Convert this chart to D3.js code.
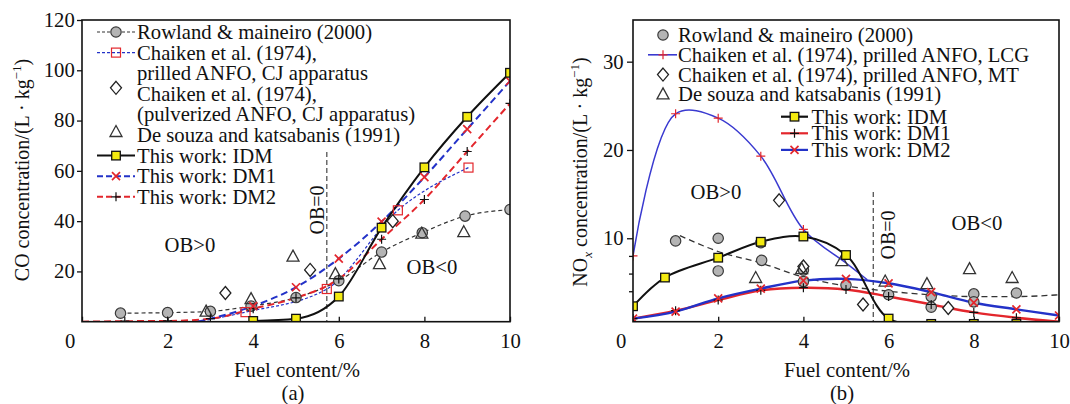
<!DOCTYPE html>
<html>
<head>
<meta charset="utf-8">
<script src="https://cdn.jsdelivr.net/npm/d3@7/dist/d3.min.js"></script>
<style>
  body { margin: 0; background: #fff; }
  text { font-family: "Liberation Serif", "Times New Roman", serif; fill: #111; }
</style>
</head>
<body>
<div id="chart"></div>
<script>
// tick values
var fuelTicks = [0, 2, 4, 6, 8, 10];
var coTicks = [20, 40, 60, 80, 100, 120];
var noxTicks = [10, 20, 30];
var noxMinorTicks = [4, 6, 8];

// (a) CO concentration
var coRowlandX = [0.9, 2, 3, 3.95, 5, 6, 7, 7.95, 8.95, 10];
var coRowlandY = [3.4, 3.6, 4.1, 6.2, 9.6, 16.3, 27.7, 35.4, 42, 44.6];
var coPrilledX = [2.7, 3.82, 5.72, 7.38, 9.03];
var coPrilledY = [0, 3.8, 13, 44.3, 61.3];
var coPulverizedX = [3.35, 5.33, 7.26];
var coPulverizedY = [11.4, 20.6, 40];
var coDesouzaX = [2.9, 3.95, 4.93, 5.92, 6.95, 7.94, 8.92];
var coDesouzaY = [4, 9, 25.9, 18.9, 22.9, 35, 35.6];
var coIdmX = [4, 5, 6, 7, 8, 9, 10];
var coIdmY = [0.3, 1.2, 10, 37.4, 61.4, 81.5, 99];
var coDm1X = [2.7, 4, 5, 6, 7, 8, 9, 10];
var coDm1Y = [0, 6.2, 13.7, 25.1, 39.8, 57.5, 76.6, 95.7];
var coDm2X = [0, 1, 2, 3, 4, 5, 6, 7, 8, 9, 10];
var coDm2Y = [0, 0.2, 0.3, 1.2, 5.2, 9.5, 17, 32.8, 48.6, 67.7, 86.8];

// (b) NOx concentration
var noxRowlandX = [1, 2, 2, 3, 3.02, 4, 4, 5, 6, 7, 7, 8, 8, 9];
var noxRowlandY = [9.7, 10, 6.3, 9.5, 7.5, 6.4, 5.1, 4.7, 3.6, 3.4, 2.2, 3.7, 2.8, 3.8];
var noxTrendX = [1.1, 2, 3, 4, 5, 6, 7, 8, 9, 10];
var noxTrendY = [10.3, 8.5, 7.2, 5.6, 4.6, 4.0, 3.6, 3.4, 3.4, 3.6];
var noxLcgX = [0, 1, 2, 3, 4, 5, 5.5];
var noxLcgY = [8, 24.1, 23.6, 19.3, 11, 7.2, 5.3];
var noxMtX = [3.43, 4, 5.4, 7.4];
var noxMtY = [14.3, 6.8, 2.5, 2.1];
var noxDesouzaX = [2.88, 3.96, 4.9, 5.92, 6.9, 7.9, 8.9];
var noxDesouzaY = [5.5, 6.5, 7.4, 5.1, 4.8, 6.5, 5.5];
var noxIdmX = [0, 0.75, 2, 3, 4, 5, 6, 7, 8, 9];
var noxIdmY = [2.3, 5.55, 7.8, 9.6, 10.2, 8.1, 0.9, 0.3, 0.3, 0.3];
var noxDm1X = [0, 1, 2, 3, 4, 5, 6, 7, 8, 9, 10];
var noxDm1Y = [0.9, 1.8, 3.0, 4.1, 4.4, 4.2, 3.4, 2.5, 1.6, 1.0, 0.55];
var noxDm2X = [0, 1, 2, 3, 4, 5, 6, 7, 8, 9, 10];
var noxDm2Y = [0.9, 1.7, 3.2, 4.3, 5.2, 5.4, 4.9, 3.9, 2.7, 1.95, 1.25];

// OB=0 position
var obZero = [5.72, 5.64];

// legend labels
var legendA = ["Rowland & maineiro (2000)", "Chaiken et al. (1974),", "prilled ANFO, CJ apparatus",
  "Chaiken et al. (1974),", "(pulverized ANFO, CJ apparatus)", "De souza and katsabanis (1991)",
  "This work: IDM", "This work: DM1", "This work: DM2"];
var legendB1 = ["Rowland & maineiro (2000)", "Chaiken et al. (1974), prilled ANFO, LCG",
  "Chaiken et al. (1974), prilled ANFO, MT", "De souza and katsabanis (1991)"];
var legendB2 = ["This work: IDM", "This work: DM1", "This work: DM2"];

// the printed text is a little wider than the font
var FS = 20, SX = 1.035;
var RED = "#e3262c", BLUE = "#2332c8";

var svg = d3.select("#chart").append("svg")
  .attr("width", 1070)
  .attr("height", 404);

function zip(xs, ys) { return xs.map((x, i) => [x, ys[i]]); }

function addText(g, x, y, str, anchor, rot) {
  var t = g.append("text")
    .attr("text-anchor", anchor || "middle")
    .attr("dy", "0.35em")
    .attr("font-size", FS)
    .text(str);
  t.attr("transform", rot ? `translate(${x},${y}) rotate(-90) scale(1,${SX})`
                          : `translate(${x},${y}) scale(${SX},1)`);
  return t;
}

function marker(g, type, x, y) {
  if (type == "circle") {
    g.append("circle").attr("cx", x).attr("cy", y).attr("r", 5.2)
      .attr("fill", "#b4b4b4").attr("stroke", "#3a3a3a").attr("stroke-width", 1.2);
  } else if (type == "yellow") {
    g.append("rect").attr("x", x - 4.3).attr("y", y - 4.3).attr("width", 8.6).attr("height", 8.6)
      .attr("fill", "#f3ea10").attr("stroke", "#111").attr("stroke-width", 1.3);
  } else if (type == "redsquare") {
    g.append("rect").attr("x", x - 4.5).attr("y", y - 4.5).attr("width", 9).attr("height", 9)
      .attr("fill", "none").attr("stroke", RED).attr("stroke-width", 1.2);
  } else if (type == "diamond") {
    g.append("path").attr("d", `M${x},${y - 6.5}L${x + 5.5},${y}L${x},${y + 6.5}L${x - 5.5},${y}Z`)
      .attr("fill", "#fff").attr("stroke", "#222").attr("stroke-width", 1.3);
  } else if (type == "triangle") {
    g.append("path").attr("d", `M${x},${y - 6.5}L${x + 6},${y + 4.5}L${x - 6},${y + 4.5}Z`)
      .attr("fill", "none").attr("stroke", "#333").attr("stroke-width", 1.3);
  } else if (type == "cross") {
    g.append("path").attr("d", `M${x - 4},${y - 4}L${x + 4},${y + 4}M${x - 4},${y + 4}L${x + 4},${y - 4}`)
      .attr("stroke", RED).attr("stroke-width", 1.7);
  } else if (type == "plus" || type == "redplus") {
    g.append("path").attr("d", `M${x - 4.5},${y}L${x + 4.5},${y}M${x},${y - 4.5}L${x},${y + 4.5}`)
      .attr("stroke", type == "plus" ? "#111" : RED).attr("stroke-width", 1.2);
  }
}

function styleAxis(ax, shift0) {
  ax.select(".domain").remove();
  ax.attr("font-size", null).attr("font-family", null);
  ax.selectAll("line").attr("stroke", "#111").attr("stroke-width", 1.3);
  ax.selectAll("text").attr("font-size", FS).attr("fill", "#111")
    .attr("transform", `scale(${SX},1)`);
  if (shift0) ax.selectAll(".tick").filter(d => d === 0).select("text").attr("x", -12);
}

// draws one series as a line
function drawLine(g, xs, ys, xScale, yScale, stroke, width, dash, curve) {
  var line = d3.line().x(d => xScale(d[0])).y(d => yScale(d[1])).curve(curve);
  g.append("path").datum(zip(xs, ys))
    .attr("d", line)
    .attr("fill", "none")
    .attr("stroke", stroke)
    .attr("stroke-width", width)
    .attr("stroke-dasharray", dash);
}

function drawMarkers(g, xs, ys, xScale, yScale, type) {
  zip(xs, ys).forEach(d => marker(g, type, xScale(d[0]), yScale(d[1])));
}

// ---------------- panel (a) ----------------
var xA = d3.scaleLinear().domain([0, 10]).range([82, 510]);
var yA = d3.scaleLinear().domain([0, 120]).range([321.7, 20]);
var gA = svg.append("g");

svg.append("clipPath").attr("id", "clipA").append("rect")
  .attr("x", 82).attr("y", 20).attr("width", 428).attr("height", 301.7);

gA.append("g").attr("transform", "translate(0,321.7)")
  .call(d3.axisBottom(xA).tickValues(fuelTicks).tickSizeInner(-5).tickSizeOuter(0).tickPadding(12))
  .call(ax => styleAxis(ax, true));
gA.append("g").attr("transform", "translate(82,0)")
  .call(d3.axisLeft(yA).tickValues(coTicks).tickSizeInner(5).tickSizeOuter(0).tickPadding(2))
  .call(ax => styleAxis(ax, false));

var pA = gA.append("g").attr("clip-path", "url(#clipA)");

// OB=0 line
pA.append("line").attr("x1", xA(obZero[0])).attr("x2", xA(obZero[0]))
  .attr("y1", 152).attr("y2", 322)
  .attr("stroke", "#444").attr("stroke-width", 1.2).attr("stroke-dasharray", "5,3");

drawLine(pA, coRowlandX, coRowlandY, xA, yA, "#333", 1.2, "4,3", d3.curveMonotoneX);
drawLine(pA, coPrilledX, coPrilledY, xA, yA, BLUE, 1.2, "3,2", d3.curveMonotoneX);
drawLine(pA, coDm2X, coDm2Y, xA, yA, RED, 2, "7,4", d3.curveMonotoneX);
drawLine(pA, coDm1X, coDm1Y, xA, yA, BLUE, 2, "7,4", d3.curveMonotoneX);
drawLine(pA, coIdmX, coIdmY, xA, yA, "#111", 2, null, d3.curveMonotoneX);

drawMarkers(pA, coRowlandX, coRowlandY, xA, yA, "circle");
drawMarkers(pA, coPrilledX.slice(1), coPrilledY.slice(1), xA, yA, "redsquare");
drawMarkers(pA, coPulverizedX, coPulverizedY, xA, yA, "diamond");
drawMarkers(pA, coDesouzaX, coDesouzaY, xA, yA, "triangle");
drawMarkers(pA, coDm2X, coDm2Y, xA, yA, "plus");
drawMarkers(pA, coDm1X.slice(1), coDm1Y.slice(1), xA, yA, "cross");
drawMarkers(pA, coIdmX, coIdmY, xA, yA, "yellow");

addText(gA, 190, 245, "OB>0");
addText(gA, 432, 267, "OB<0");
addText(gA, 317, 210, "OB=0", "middle", true);

// legend (a)
function drawSeg(y, stroke, w, dash) {
  gA.append("line").attr("x1", 97).attr("x2", 135).attr("y1", y).attr("y2", y)
    .attr("stroke", stroke).attr("stroke-width", w).attr("stroke-dasharray", dash);
}
legendA.forEach(function (lab, i) {
  var y = 32 + i * 20.6;
  addText(gA, 137, y, lab, "start");
  if (i == 0) { drawSeg(y, "#333", 1.2, "3,2"); marker(gA, "circle", 116, y); }
  if (i == 1) { drawSeg(y, BLUE, 1.2, "3,2"); marker(gA, "redsquare", 116, y); }
  if (i == 3) marker(gA, "diamond", 116, y - 6);
  if (i == 5) marker(gA, "triangle", 116, y - 3);
  if (i == 6) { drawSeg(y, "#111", 2, null); marker(gA, "yellow", 116, y); }
  if (i == 7) { drawSeg(y, BLUE, 2, "6,3"); marker(gA, "cross", 116, y); }
  if (i == 8) { drawSeg(y, RED, 2, "6,3"); marker(gA, "plus", 116, y); }
});

gA.append("rect").attr("x", 82).attr("y", 20).attr("width", 428).attr("height", 301.7)
  .attr("fill", "none").attr("stroke", "#111").attr("stroke-width", 1.6);

// axis titles (a)
var yTitleA = gA.append("text").attr("text-anchor", "middle").attr("font-size", FS)
  .attr("transform", `translate(29,170) rotate(-90) scale(1,${SX})`);
yTitleA.append("tspan").text("CO concentration/(L \u00b7 kg");
yTitleA.append("tspan").attr("font-size", 13).attr("dy", -8).text("\u22121");
yTitleA.append("tspan").attr("dy", 8).text(")");
addText(gA, 297, 370, "Fuel content/%");
addText(gA, 293, 393, "(a)");

// ---------------- panel (b) ----------------
var xB = d3.scaleLinear().domain([0, 10]).range([633, 1059]);
var yB = d3.scaleLinear().domain([0.55, 34.72]).range([321.7, 20]);
var gB = svg.append("g");

svg.append("clipPath").attr("id", "clipB").append("rect")
  .attr("x", 633).attr("y", 20).attr("width", 426).attr("height", 301.7);

gB.append("g").attr("transform", "translate(0,321.7)")
  .call(d3.axisBottom(xB).tickValues(fuelTicks).tickSizeInner(-5).tickSizeOuter(0).tickPadding(12))
  .call(ax => styleAxis(ax, true));
gB.append("g").attr("transform", "translate(633,0)")
  .call(d3.axisLeft(yB).tickValues(noxTicks).tickSizeInner(6).tickSizeOuter(0).tickPadding(3))
  .call(ax => styleAxis(ax, false));
gB.append("g").attr("transform", "translate(633,0)")
  .call(d3.axisLeft(yB).tickValues(noxMinorTicks).tickFormat("").tickSizeInner(4).tickSizeOuter(0))
  .call(ax => styleAxis(ax, false));

var pB = gB.append("g").attr("clip-path", "url(#clipB)");

pB.append("line").attr("x1", xB(obZero[1])).attr("x2", xB(obZero[1]))
  .attr("y1", 192).attr("y2", 322)
  .attr("stroke", "#444").attr("stroke-width", 1.2).attr("stroke-dasharray", "5,3");

drawLine(pB, noxTrendX, noxTrendY, xB, yB, "#333", 1.3, "6,4", d3.curveMonotoneX);
drawLine(pB, noxLcgX, noxLcgY, xB, yB, "#3a3ad0", 1.5, null, d3.curveCatmullRom);
drawLine(pB, noxDm1X, noxDm1Y, xB, yB, RED, 2.4, null, d3.curveCatmullRom);
drawLine(pB, noxDm2X, noxDm2Y, xB, yB, BLUE, 2.4, null, d3.curveCatmullRom);
drawLine(pB, noxIdmX, noxIdmY, xB, yB, "#111", 2, null, d3.curveCatmullRom);

drawMarkers(pB, noxLcgX.slice(0, 5), noxLcgY.slice(0, 5), xB, yB, "redplus");
drawMarkers(pB, noxRowlandX, noxRowlandY, xB, yB, "circle");
drawMarkers(pB, noxMtX, noxMtY, xB, yB, "diamond");
drawMarkers(pB, noxDesouzaX, noxDesouzaY, xB, yB, "triangle");
drawMarkers(pB, noxDm1X, noxDm1Y, xB, yB, "plus");
drawMarkers(pB, noxDm2X, noxDm2Y, xB, yB, "cross");
drawMarkers(pB, noxIdmX, noxIdmY, xB, yB, "yellow");

addText(gB, 716, 192, "OB>0");
addText(gB, 977, 223, "OB<0");
addText(gB, 888, 235, "OB=0", "middle", true);

// legend (b)
legendB1.forEach(function (lab, i) {
  var y = 35 + i * 19.8;
  addText(gB, 678, y, lab, "start");
  if (i == 0) marker(gB, "circle", 663, y);
  if (i == 1) {
    gB.append("line").attr("x1", 648).attr("x2", 677).attr("y1", y).attr("y2", y)
      .attr("stroke", "#3a3ad0").attr("stroke-width", 1.6);
    marker(gB, "redplus", 663, y);
  }
  if (i == 2) marker(gB, "diamond", 663, y);
  if (i == 3) marker(gB, "triangle", 663, y);
});
var legB2Style = [["#111", "yellow"], [RED, "plus"], [BLUE, "cross"]];
legendB2.forEach(function (lab, i) {
  var y = 116.7 + i * 16.6;
  addText(gB, 811.5, y, lab, "start");
  gB.append("line").attr("x1", 781).attr("x2", 808).attr("y1", y).attr("y2", y)
    .attr("stroke", legB2Style[i][0]).attr("stroke-width", 2.2);
  marker(gB, legB2Style[i][1], 794.5, y);
});

gB.append("rect").attr("x", 633).attr("y", 20).attr("width", 426).attr("height", 301.7)
  .attr("fill", "none").attr("stroke", "#111").attr("stroke-width", 1.6);

var yTitleB = gB.append("text").attr("text-anchor", "middle").attr("font-size", FS)
  .attr("transform", `translate(587,172) rotate(-90) scale(1,${SX})`);
yTitleB.append("tspan").text("NO");
yTitleB.append("tspan").attr("font-size", 13).attr("font-style", "italic").attr("dy", 5).text("x");
yTitleB.append("tspan").attr("dy", -5).text(" concentration/(L \u00b7 kg");
yTitleB.append("tspan").attr("font-size", 13).attr("dy", -8).text("\u22121");
yTitleB.append("tspan").attr("dy", 8).text(")");
addText(gB, 847, 370, "Fuel content/%");
addText(gB, 842, 393, "(b)");
</script>
</body>
</html>
